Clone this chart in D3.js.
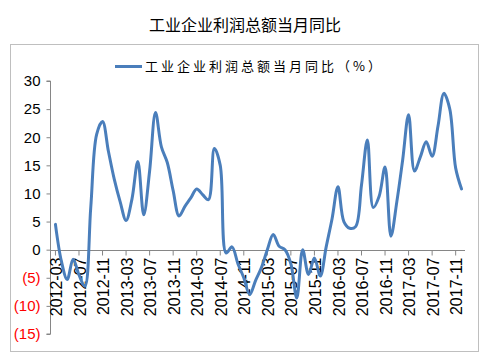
<!DOCTYPE html>
<html>
<head>
<meta charset="utf-8">
<script src="https://cdn.jsdelivr.net/npm/d3@7"></script>
<style>
  body { margin: 0; background: #fff; }
  svg { display: block; }
</style>
</head>
<body>
<svg id="chart"></svg>
<script>
// 2012-03 .. 2017-12, one entry per month
let months = [
  "2012-03","2012-04","2012-05","2012-06","2012-07","2012-08","2012-09","2012-10","2012-11","2012-12",
  "2013-01","2013-02","2013-03","2013-04","2013-05","2013-06","2013-07","2013-08","2013-09","2013-10","2013-11","2013-12",
  "2014-01","2014-02","2014-03","2014-04","2014-05","2014-06","2014-07","2014-08","2014-09","2014-10","2014-11","2014-12",
  "2015-01","2015-02","2015-03","2015-04","2015-05","2015-06","2015-07","2015-08","2015-09","2015-10","2015-11","2015-12",
  "2016-01","2016-02","2016-03","2016-04","2016-05","2016-06","2016-07","2016-08","2016-09","2016-10","2016-11","2016-12",
  "2017-01","2017-02","2017-03","2017-04","2017-05","2017-06","2017-07","2017-08","2017-09","2017-10","2017-11","2017-12"
]
let profitYoY = [
  4.5, -2.0, -5.3, -1.7, -4.5, -6.5, 7.5, 20.5, 22.8, 17.5,
  12.5, 8.5, 5.2, 9.0, 15.7, 6.2, 14.0, 24.4, 18.3, 15.5, 10.5, 6.0,
  7.7, 9.2, 10.8, 9.8, 8.9, 18.0, 15.0, -0.6, 0.5, -2.5, -5.0, -8.0,
  -5.5, -3.2, 0.0, 2.7, 0.6, 0.0, -2.5, -8.6, 0.0, -4.4, -1.5, -4.7,
  0.5, 5.5, 11.2, 5.0, 3.8, 4.1, 11.5, 19.5, 7.5, 9.5, 14.7, 2.4,
  8.5, 16.0, 24.0, 14.0, 16.5, 19.2, 16.6, 22.0, 27.8, 25.0, 14.5, 10.8
]
let xTickLabels = months.filter((d, i) => i % 4 === 0)
let yTicks = [-15, -10, -5, 0, 5, 10, 15, 20, 25, 30]

let title = "工业企业利润总额当月同比"
let seriesName = "工业企业利润总额当月同比（%）"

let w = 494
let h = 364
let lineColor = "#4a7ebb"

let svg = d3.select("#chart")
  .attr("width", w)
  .attr("height", h)

let data = months.map((m, i) => ({ m: m, v: profitYoY[i] }))

let xScale = d3.scaleBand()
  .domain(months)
  .range([52.5, 464.5])

let yScale = d3.scaleLinear()
  .domain([-15, 30])
  .range([334, 81])

// title
svg.append("text")
  .attr("x", 245)
  .attr("y", 31)
  .attr("text-anchor", "middle")
  .style("font-family", "'Noto Sans CJK SC', sans-serif")
  .style("font-size", "16px")
  .style("fill", "#000")
  .text(title)

// chart frame
svg.append("rect")
  .attr("x", 10.5)
  .attr("y", 44.5)
  .attr("width", 468)
  .attr("height", 307)
  .style("fill", "none")
  .style("stroke", "#bfbfbf")
  .style("stroke-width", 1)

// legend
svg.append("line")
  .attr("x1", 115)
  .attr("x2", 142)
  .attr("y1", 66.5)
  .attr("y2", 66.5)
  .style("stroke", lineColor)
  .style("stroke-width", 3)

svg.append("text")
  .attr("x", 145)
  .attr("y", 71)
  .style("font-family", "'Noto Sans CJK SC', sans-serif")
  .style("font-size", "13px")
  .style("letter-spacing", "3px")
  .style("fill", "#000")
  .text(seriesName)

// y axis
let yAxis = d3.axisLeft(yScale)
  .tickValues(yTicks)
  .tickSize(4)
  .tickPadding(6)
  .tickFormat((d) => d < 0 ? "(" + Math.abs(d) + ")" : d)

let yG = svg.append("g")
  .attr("transform", "translate(50.5, 0)")
  .call(yAxis)

yG.select(".domain").attr("d", "M-4," + yScale(30) + "H0V" + yScale(-15) + "H-4")
yG.selectAll("line").style("stroke", "#868686")
yG.select(".domain").style("stroke", "#868686")
yG.selectAll("text")
  .style("font-family", "'Liberation Sans', Arial, sans-serif")
  .style("font-size", "15px")
  .style("fill", (d) => d < 0 ? "#ff0000" : "#000")

// x axis
let xAxis = d3.axisBottom(xScale)
  .tickValues(xTickLabels)
  .tickSize(5)

let xG = svg.append("g")
  .attr("transform", `translate(0, ${Math.round(yScale(0)) + 0.5})`)
  .call(xAxis)

xG.select(".domain").attr("d", "M50,0H465")
xG.selectAll("line").style("stroke", "#868686")
xG.select(".domain").style("stroke", "#868686")
xG.selectAll("text")
  .attr("transform", "rotate(-90)")
  .attr("x", -7)
  .attr("y", 1)
  .attr("dy", "0.35em")
  .attr("text-anchor", "end")
  .style("font-family", "'Liberation Sans', Arial, sans-serif")
  .style("font-size", "16px")
  .style("fill", "#000")

// the series
let line = d3.line()
  .x((d) => xScale(d.m) + xScale.bandwidth() / 2)
  .y((d) => yScale(d.v))
  .curve(d3.curveCatmullRom.alpha(0.5))

svg.append("path")
  .datum(data)
  .attr("d", line)
  .style("fill", "none")
  .style("stroke", lineColor)
  .style("stroke-width", 3)
  .style("stroke-linejoin", "round")
  .style("stroke-linecap", "round")
</script>
</body>
</html>
